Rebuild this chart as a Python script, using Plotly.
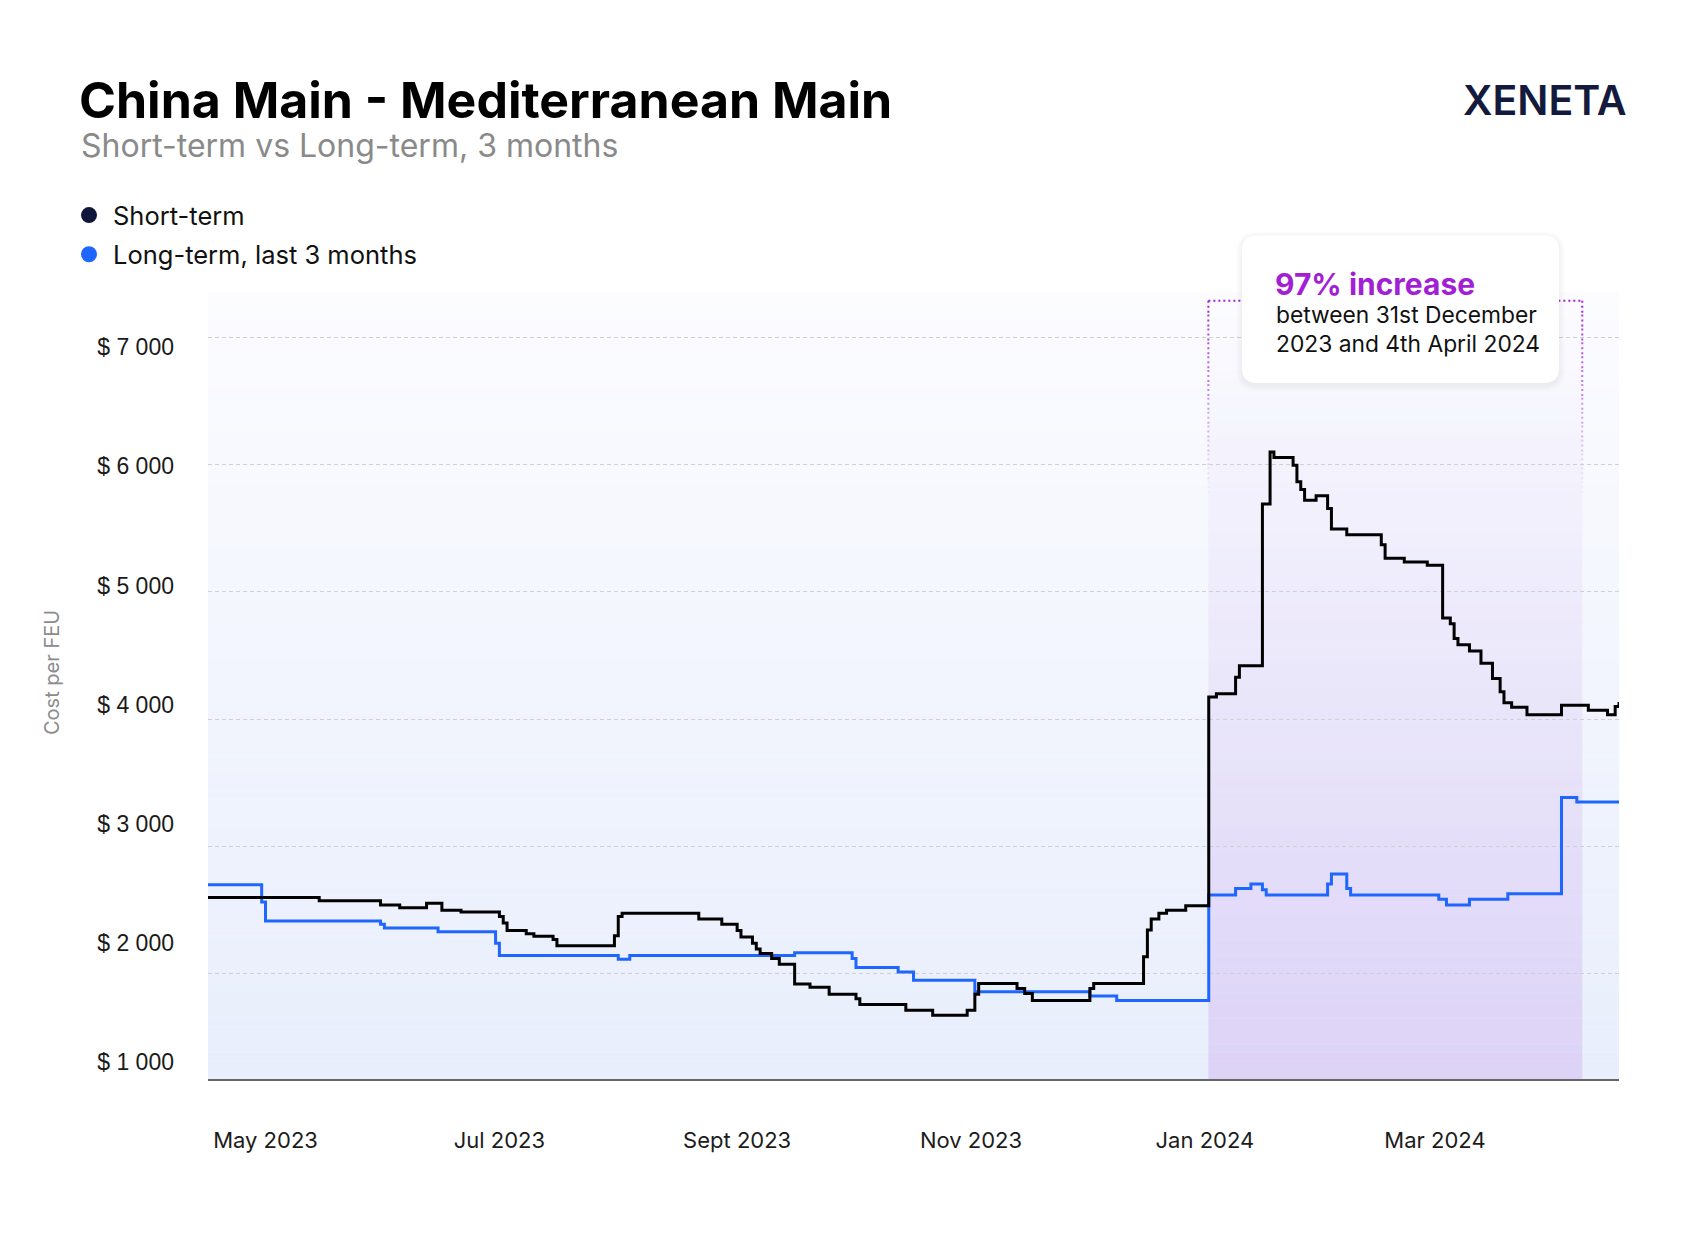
import plotly.graph_objects as go

# ---------------- data ----------------
short_dates = [
    "2023-04-16", "2023-05-15", "2023-05-31", "2023-06-05", "2023-06-12", "2023-06-16",
    "2023-06-21", "2023-07-01", "2023-07-02", "2023-07-03", "2023-07-08", "2023-07-10",
    "2023-07-15", "2023-07-16", "2023-07-31", "2023-08-01", "2023-08-02", "2023-08-22",
    "2023-08-28", "2023-09-01", "2023-09-02", "2023-09-05", "2023-09-06", "2023-09-07",
    "2023-09-10", "2023-09-12", "2023-09-16", "2023-09-20", "2023-09-25", "2023-10-02",
    "2023-10-03", "2023-10-15", "2023-10-22", "2023-10-31", "2023-11-02", "2023-11-03",
    "2023-11-13", "2023-11-15", "2023-11-17", "2023-12-02", "2023-12-03", "2023-12-16",
    "2023-12-17", "2023-12-18", "2023-12-20", "2023-12-22", "2023-12-27", "2024-01-02",
    "2024-01-04", "2024-01-09", "2024-01-10", "2024-01-16", "2024-01-18", "2024-01-19",
    "2024-01-24", "2024-01-25", "2024-01-26", "2024-01-27", "2024-01-30", "2024-02-02",
    "2024-02-03", "2024-02-07", "2024-02-16", "2024-02-17", "2024-02-22", "2024-02-28",
    "2024-03-03", "2024-03-05", "2024-03-06", "2024-03-07", "2024-03-10", "2024-03-13",
    "2024-03-16", "2024-03-18", "2024-03-19", "2024-03-21", "2024-03-25", "2024-04-03",
    "2024-04-10", "2024-04-15", "2024-04-17", "2024-04-18",
]
short_values = [
    2600, 2575, 2540, 2520, 2555, 2500,
    2485, 2450, 2400, 2340, 2315, 2295,
    2270, 2220, 2300, 2450, 2475, 2430,
    2390, 2340, 2290, 2240, 2195, 2160,
    2120, 2075, 1920, 1895, 1840, 1805,
    1760, 1715, 1675, 1715, 1840, 1925,
    1885, 1845, 1790, 1885, 1925, 2135,
    2345, 2430, 2475, 2500, 2535, 4175,
    4200, 4330, 4420, 5690, 6100, 6055,
    5995, 5865, 5805, 5720, 5755, 5655,
    5495, 5450, 5370, 5265, 5235, 5210,
    4795, 4750, 4635, 4585, 4535, 4440,
    4320, 4215, 4130, 4095, 4035, 4110,
    4070, 4035, 4100, 4135,
]

long_dates = [
    "2023-04-16", "2023-04-30", "2023-05-01", "2023-05-31", "2023-06-01", "2023-06-15",
    "2023-06-30", "2023-07-01", "2023-08-01", "2023-08-04", "2023-09-16", "2023-10-01",
    "2023-10-02", "2023-10-13", "2023-10-17", "2023-11-02", "2023-12-02", "2023-12-09",
    "2024-01-02", "2024-01-09", "2024-01-13", "2024-01-16", "2024-01-17", "2024-02-02",
    "2024-02-03", "2024-02-07", "2024-02-08", "2024-03-02", "2024-03-04", "2024-03-10",
    "2024-03-20", "2024-04-03", "2024-04-07", "2024-04-18",
]
long_values = [
    2700, 2565, 2415, 2390, 2360, 2330,
    2240, 2145, 2115, 2145, 2165, 2120,
    2050, 2015, 1950, 1860, 1825, 1790,
    2620, 2670, 2705, 2660, 2620, 2705,
    2785, 2670, 2620, 2585, 2540, 2585,
    2630, 3385, 3350, 3350,
]

month_ticks = ["2023-05-01", "2023-07-01", "2023-09-01", "2023-11-01", "2024-01-01", "2024-03-01"]
month_labels = ["May 2023", "Jul 2023", "Sept 2023", "Nov 2023", "Jan 2024", "Mar 2024"]

grid_values = [2000, 3000, 4000, 5000, 6000, 7000]
label_values = [1000, 2000, 3000, 4000, 5000, 6000, 7000]
label_texts = ["$ 1 000", "$ 2 000", "$ 3 000", "$ 4 000", "$ 5 000", "$ 6 000", "$ 7 000"]

series_names = ["Short-term", "Long-term, last 3 months"]

# ---------------- layout constants ----------------
W, H = 1696, 1248
PL, PR, PT, PB = 208, 1619, 293, 1079
PW, PH = PR - PL, PB - PT


def px(xp):
    return (xp - PL) / PW


def py(yp):
    return (PB - yp) / PH


BLACK = "#000000"
BLUE = "#1f66ff"
NAVY = "#10173a"
PURPLE = "#a21fd6"

fig = go.Figure()

# data lines
fig.add_trace(go.Scatter(x=long_dates, y=long_values, mode="lines", line_shape="hv",
                         line=dict(color=BLUE, width=3), showlegend=False, hoverinfo="skip"))
fig.add_trace(go.Scatter(x=short_dates, y=short_values, mode="lines", line_shape="hv",
                         line=dict(color=BLACK, width=3), showlegend=False, hoverinfo="skip"))

# legend entries (round markers), attached to the label axis
for name, col, grp in [(series_names[0], NAVY, "a"), (series_names[1], BLUE, "b")]:
    fig.add_trace(go.Scatter(x=[None], y=[None], mode="markers", name=name, legendgroup=grp,
                             marker=dict(color=col, size=16, symbol="circle"), yaxis="y2"))

shapes = []
# plot background vertical gradient
N = 90
top_c = (252, 252, 255)
bot_c = (232, 238, 252)
for i in range(N):
    t = (i + 0.5) / N
    c = tuple(round(bot_c[k] + t * (top_c[k] - bot_c[k])) for k in range(3))
    shapes.append(dict(type="rect", xref="paper", yref="paper", x0=0, x1=1,
                       y0=i / N, y1=(i + 1) / N + 0.0005, layer="below",
                       fillcolor="rgb(%d,%d,%d)" % c, line=dict(width=0)))

# highlighted period (purple gradient)
hx0, hx1 = "2024-01-01 21:30", "2024-04-08 10:00"
ptop = py(300.7)
M = 90
for i in range(M):
    t = (i + 0.5) / M
    a = 0.5 * (1 - t) ** 1.1
    shapes.append(dict(type="rect", xref="x", yref="paper", x0=hx0, x1=hx1,
                       y0=ptop * i / M, y1=ptop * (i + 1) / M, layer="below",
                       fillcolor="rgba(210,184,242,%.4f)" % a, line=dict(width=0)))

# dotted outline of the period (fading downwards)
shapes.append(dict(type="line", xref="x", yref="paper", x0=hx0, x1=hx1, y0=ptop, y1=ptop,
                   layer="below", line=dict(color=PURPLE, width=2, dash="2px,3px")))
S = 14
ybot = py(495)
for xv in (hx0, hx1):
    for i in range(S):
        ya = ptop - (ptop - ybot) * i / S
        yb = ptop - (ptop - ybot) * (i + 1) / S
        shapes.append(dict(type="line", xref="x", yref="paper", x0=xv, x1=xv, y0=ya, y1=yb,
                           layer="below", opacity=max(0.0, 1 - (i + 0.5) / S),
                           line=dict(color=PURPLE, width=2, dash="2px,3px")))


# callout card with soft shadow and rounded corners
def rounded(x0p, x1p, ytp, ybp, r):
    x0, x1, yt, yb = px(x0p), px(x1p), py(ytp), py(ybp)
    rx, ry = r / PW, r / PH
    return (f"M {x0+rx},{yt} L {x1-rx},{yt} Q {x1},{yt} {x1},{yt-ry} "
            f"L {x1},{yb+ry} Q {x1},{yb} {x1-rx},{yb} L {x0+rx},{yb} "
            f"Q {x0},{yb} {x0},{yb+ry} L {x0},{yt-ry} Q {x0},{yt} {x0+rx},{yt} Z")


bx0, bx1, byt, byb = 1242, 1559, 235.5, 383
for k in range(6, 0, -1):
    shapes.append(dict(type="path", xref="paper", yref="paper", layer="above",
                       path=rounded(bx0 - k, bx1 + k, byt - k + 2, byb + k + 2, 15 + k),
                       fillcolor="rgba(60,60,110,0.012)", line=dict(width=0)))
shapes.append(dict(type="path", xref="paper", yref="paper", layer="above",
                   path=rounded(bx0, bx1, byt, byb, 15),
                   fillcolor="#ffffff", line=dict(width=0)))

annotations = [
    dict(text="Short-term vs Long-term, 3 months", xref="paper", yref="paper",
         x=px(79), y=py(145), xanchor="left", yanchor="middle", showarrow=False,
         font=dict(family="Inter", size=32, color="#8a8a8a")),
    dict(text="XENETA", xref="paper", yref="paper",
         x=px(1629), y=py(100), xanchor="right", yanchor="middle", showarrow=False,
         font=dict(family="Inter", size=41, color="#141a3c", weight=600)),
    dict(text="Cost per FEU", xref="paper", yref="paper", textangle=-90,
         x=px(52), y=py(673), xanchor="center", yanchor="middle", showarrow=False,
         font=dict(family="Inter", size=20, color="#8c8c8c")),
    dict(text="97% increase", xref="paper", yref="paper",
         x=px(1273), y=py(284), xanchor="left", yanchor="middle", showarrow=False,
         font=dict(family="Inter", size=30, color=PURPLE, weight=700)),
    dict(text="between 31st December", xref="paper", yref="paper",
         x=px(1274), y=py(314), xanchor="left", yanchor="middle", showarrow=False,
         font=dict(family="Inter", size=22.8, color="#111111")),
    dict(text="2023 and 4th April 2024", xref="paper", yref="paper",
         x=px(1274), y=py(343.5), xanchor="left", yanchor="middle", showarrow=False,
         font=dict(family="Inter", size=22.8, color="#111111")),
]

fig.update_layout(
    width=W, height=H,
    margin=dict(l=PL, r=W - PR, t=PT, b=H - PB, pad=0, autoexpand=False),
    paper_bgcolor="#ffffff", plot_bgcolor="#ffffff",
    title=dict(text="China Main - Mediterranean Main", xref="container", yref="container",
               x=79 / W, y=1 - 100 / H, xanchor="left", yanchor="middle",
               font=dict(family="Inter", size=50, color="#000000", weight=700)),
    legend=dict(xref="paper", yref="paper", x=px(65), y=py(192),
                xanchor="left", yanchor="top", orientation="v", traceorder="grouped",
                tracegroupgap=3, bgcolor="rgba(0,0,0,0)", itemwidth=38,
                font=dict(family="Inter", size=25.5, color="#111111")),
    xaxis=dict(type="date", range=["2023-04-16", "2024-04-18"], tickvals=month_ticks,
               ticktext=month_labels, showgrid=False, zeroline=False, showline=True,
               linecolor="#666666", linewidth=2, ticks="", ticklabelstandoff=41,
               tickfont=dict(family="Inter", size=22, color="#1c1c1c")),
    yaxis=dict(range=[1174, 7348], tickvals=grid_values, showticklabels=False,
               showgrid=True, gridcolor="#cfcfd6", gridwidth=1, griddash="4px,3px",
               zeroline=False, showline=False, ticks=""),
    yaxis2=dict(overlaying="y", side="left", anchor="x", range=[858, 7455],
                tickvals=label_values, ticktext=label_texts, showgrid=False, zeroline=False,
                showline=False, ticks="", ticklabelstandoff=33,
                tickfont=dict(family="Liberation Sans", size=23, color="#1a1a1a")),
    shapes=shapes,
    annotations=annotations,
    hovermode=False,
)

fig.write_html("out.html", config={"displayModeBar": False},
               post_script="document.body.style.margin='0';document.body.style.padding='0';")
